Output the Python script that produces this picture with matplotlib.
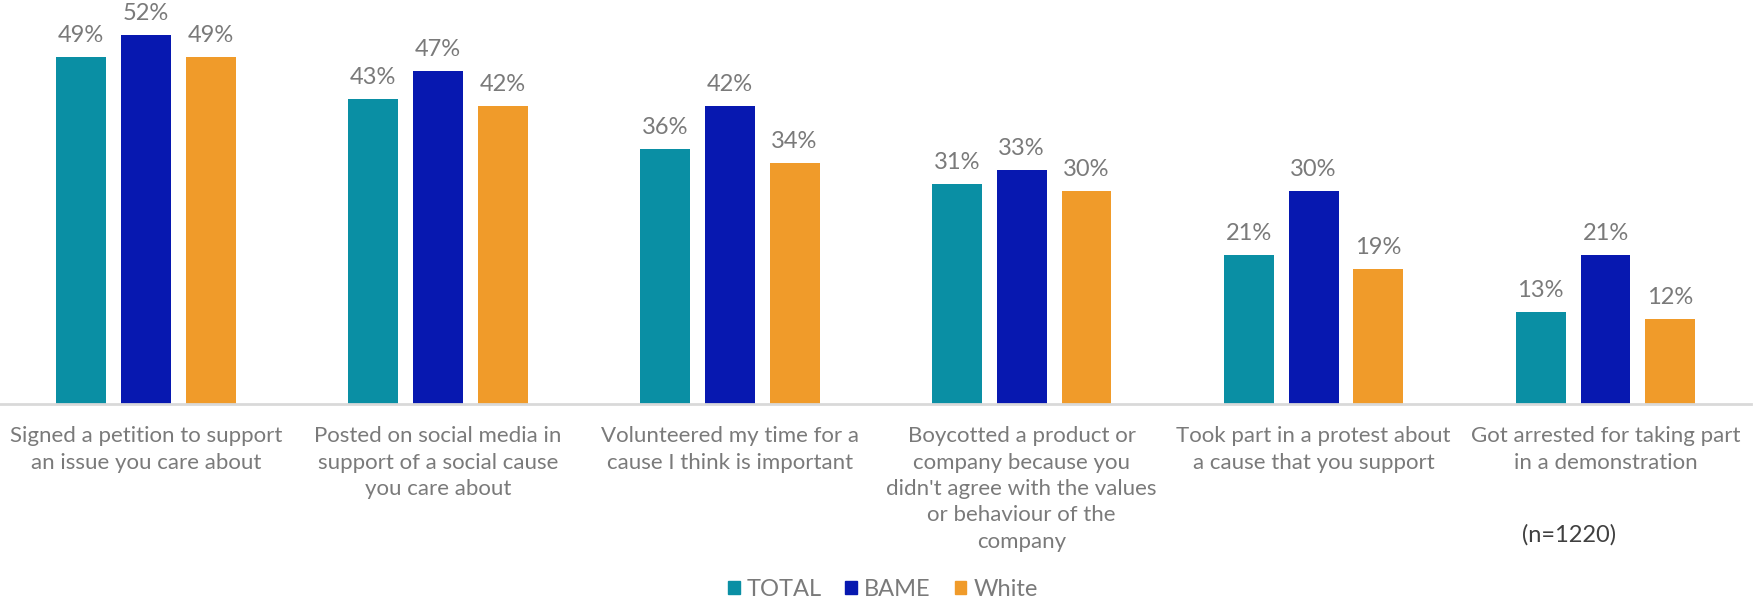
import numpy as np
import matplotlib.pyplot as plt
from matplotlib.patches import Patch

categories = [
    "Signed a petition to support\nan issue you care about",
    "Posted on social media in\nsupport of a social cause\nyou care about",
    "Volunteered my time for a\ncause I think is important",
    "Boycotted a product or\ncompany because you\ndidn't agree with the values\nor behaviour of the\ncompany",
    "Took part in a protest about\na cause that you support",
    "Got arrested for taking part\nin a demonstration",
]
series_names = ["TOTAL", "BAME", "White"]
total = [49, 43, 36, 31, 21, 13]
bame = [52, 47, 42, 33, 30, 21]
white = [49, 42, 34, 30, 19, 12]

colors = ["#0a8fa4", "#0718b0", "#f09b2a"]
grey = "#7a7a7a"
plt.rcParams['font.family'] = ['Lato', 'DejaVu Sans']

fig = plt.figure(figsize=(17.55, 6.06), dpi=100)
ax = fig.add_axes([0.0, 0.3333, 0.998, 0.6667])

x = np.arange(len(categories))
step = 0.222
width = 0.171
for i, (vals, col) in enumerate(zip([total, bame, white], colors)):
    bars = ax.bar(x + (i - 1) * step, vals, width, color=col, zorder=2)
    for b, v in zip(bars, vals):
        ax.annotate(f"{v}%", (b.get_x() + b.get_width() / 2, v),
                    xytext=(0, 8), textcoords="offset points",
                    ha="center", va="bottom", fontsize=17, color=grey)

ax.set_xlim(-0.5, 5.5)
ax.set_ylim(0, 57)
for s in ["top", "right", "left"]:
    ax.spines[s].set_visible(False)
ax.spines["bottom"].set_color("#d9d9d9")
ax.spines["bottom"].set_linewidth(2)
ax.set_yticks([])
ax.set_xticks(x)
ax.set_xticklabels(categories, fontsize=16, color=grey, linespacing=1.4)
ax.tick_params(axis="x", length=0, pad=16)

handles = [Patch(color=c) for c in colors]
fig.legend(handles, series_names, loc="lower center", bbox_to_anchor=(0.503, -0.025),
           ncol=3, frameon=False, fontsize=17, labelcolor=grey,
           handlelength=0.5, handleheight=0.5, handletextpad=0.3, columnspacing=1.0)

fig.text(0.894, 0.117, "(n=1220)", fontsize=17, color="#404040", ha="center", va="center")

fig.savefig("out.png", dpi=100)
